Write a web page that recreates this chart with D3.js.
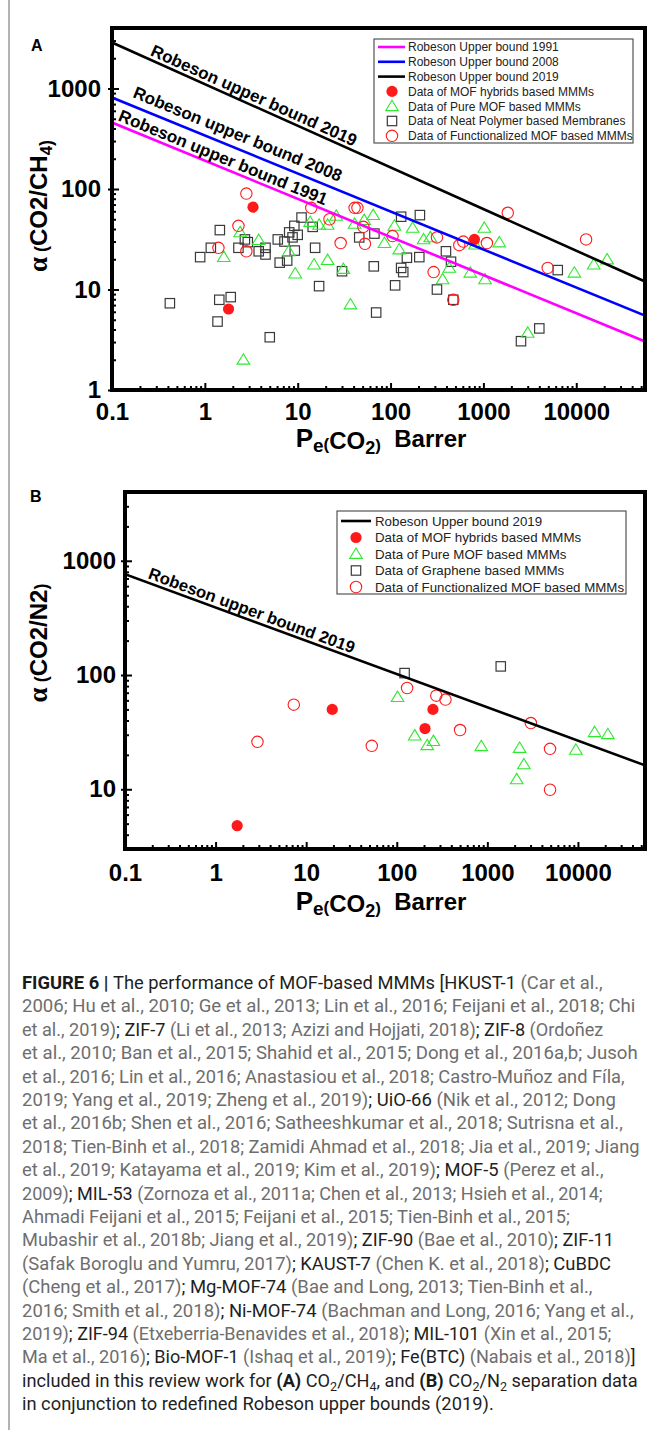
<!DOCTYPE html>
<html>
<head>
<meta charset="utf-8">
<script src="https://cdn.jsdelivr.net/npm/d3@7"></script>
<style>
  body { margin: 0; background: #fff; }
  svg { display: block; }
</style>
</head>
<body>
<div id="figure"></div>
<script>
// ---- values ----
const xTickValues = [0.1, 1, 10, 100, 1000, 10000];
const yTickValuesA = [1, 10, 100, 1000];
const yTickValuesB = [10, 100, 1000];

// (A) CO2/CH4  -- [permeability (Barrer), selectivity]
const bound1991A = [[0.1, 459], [55000, 3.04]];
const bound2008A = [[0.1, 813], [55000, 5.5]];
const bound2019A = [[0.1, 2870], [55000, 12]];

const hybridsA = [[3.3, 66], [1.8, 6.4], [800, 31.5]];
const pureA = [
  [2.4, 37], [3.8, 31], [1.6, 21], [9.4, 14.4], [15, 17.7], [21, 19.6], [13.6, 47], [17, 44],
  [21, 44], [26, 54], [2.6, 2.0], [8.0, 24], [41, 45], [52, 49], [65, 55], [110, 43], [173, 41],
  [86, 29], [124, 25], [227, 31.5], [268, 33], [31, 16], [429, 16.4], [364, 12.6], [722, 14.7],
  [1023, 41], [812, 28], [1040, 12.6], [1484, 29.4], [37, 7.1], [3000, 3.7], [9540, 14.7],
  [15430, 17.7], [21500, 19.9]
];
const polymerA = [
  [0.42, 7.3], [0.89, 21], [1.16, 26], [1.45, 39], [1.43, 7.9], [1.9, 8.4], [1.37, 4.8], [5.0, 3.35],
  [2.3, 26], [2.7, 31.5], [2.9, 29.6], [3.8, 24], [4.5, 26], [4.5, 22.3], [6.1, 31.5], [7.2, 30],
  [8.1, 37], [9.2, 43], [11, 52], [8.8, 33], [10, 35], [9.3, 24.4], [7.7, 19.4], [6.4, 18.5],
  [14.5, 42], [15.4, 26], [17, 10.8], [130, 53], [207, 55], [46, 33], [67, 36], [30, 15.2],
  [66, 17], [150, 20.7], [204, 21], [130, 16.4], [137, 14.9], [112, 11], [395, 24], [448, 18.9],
  [316, 10], [70, 5.9], [474, 7.9], [6320, 15.6], [4000, 4.1], [2540, 3.06]
];
const functionalA = [
  [2.8, 90], [2.3, 43], [1.4, 26], [2.8, 24], [14, 65], [22, 50], [29, 29], [41, 65], [44, 65],
  [51, 42], [53, 28.5], [105, 34], [316, 33], [550, 27.6], [607, 30], [1090, 29], [291, 14.9],
  [474, 7.9], [1830, 58], [12760, 31.5], [4930, 16.4]
];

// (B) CO2/N2
const bound2019B = [[0.1, 763], [55000, 16.2]];
const hybridsB = [[1.73, 4.8], [19.4, 50], [251, 50], [205, 34]];
const pureB = [
  [102, 64], [158, 29.5], [217, 24.3], [254, 26.4], [857, 23.8], [2270, 23], [2110, 12.2],
  [2530, 16.5], [9490, 22.1], [15270, 31.6], [21400, 30.3]
];
const grapheneB = [[122, 104], [1406, 119]];
const functionalB = [
  [2.9, 26], [7.3, 55], [53, 24], [130, 77], [273, 66], [345, 61], [500, 33], [3020, 38],
  [4920, 22.6], [4920, 9.9]
];

const legendLabelsA = [
  'Robeson Upper bound 1991', 'Robeson Upper bound 2008', 'Robeson Upper bound 2019',
  'Data of MOF hybrids based MMMs', 'Data of Pure MOF based MMMs',
  'Data of Neat Polymer based Membranes', 'Data of Functionalized MOF based MMMs'
];
const legendLabelsB = [
  'Robeson Upper bound 2019', 'Data of MOF hybrids based MMMs', 'Data of Pure MOF based MMMs',
  'Data of Graphene based MMMs', 'Data of Functionalized MOF based MMMs'
];

// caption, line by line: [text, style]  b = bold, d = dark, g = grey, s = dark subscript
const captionLines = [
  [['FIGURE 6 | ', 'b'], ['The performance of MOF-based MMMs [HKUST-1 ', 'd'], ['(Car et al.,', 'g']],
  [['2006; Hu et al., 2010; Ge et al., 2013; Lin et al., 2016; Feijani et al., 2018; Chi', 'g']],
  [['et al., 2019)', 'g'], ['; ZIF-7 ', 'd'], ['(Li et al., 2013; Azizi and Hojjati, 2018)', 'g'], ['; ZIF-8 ', 'd'], ['(Ordoñez', 'g']],
  [['et al., 2010; Ban et al., 2015; Shahid et al., 2015; Dong et al., 2016a,b; Jusoh', 'g']],
  [['et al., 2016; Lin et al., 2016; Anastasiou et al., 2018; Castro-Muñoz and Fíla,', 'g']],
  [['2019; Yang et al., 2019; Zheng et al., 2019)', 'g'], ['; UiO-66 ', 'd'], ['(Nik et al., 2012; Dong', 'g']],
  [['et al., 2016b; Shen et al., 2016; Satheeshkumar et al., 2018; Sutrisna et al.,', 'g']],
  [['2018; Tien-Binh et al., 2018; Zamidi Ahmad et al., 2018; Jia et al., 2019; Jiang', 'g']],
  [['et al., 2019; Katayama et al., 2019; Kim et al., 2019)', 'g'], ['; MOF-5 ', 'd'], ['(Perez et al.,', 'g']],
  [['2009)', 'g'], ['; MIL-53 ', 'd'], ['(Zornoza et al., 2011a; Chen et al., 2013; Hsieh et al., 2014;', 'g']],
  [['Ahmadi Feijani et al., 2015; Feijani et al., 2015; Tien-Binh et al., 2015;', 'g']],
  [['Mubashir et al., 2018b; Jiang et al., 2019)', 'g'], ['; ZIF-90 ', 'd'], ['(Bae et al., 2010)', 'g'], ['; ZIF-11', 'd']],
  [['(Safak Boroglu and Yumru, 2017)', 'g'], ['; KAUST-7 ', 'd'], ['(Chen K. et al., 2018)', 'g'], ['; CuBDC', 'd']],
  [['(Cheng et al., 2017)', 'g'], ['; Mg-MOF-74 ', 'd'], ['(Bae and Long, 2013; Tien-Binh et al.,', 'g']],
  [['2016; Smith et al., 2018)', 'g'], ['; Ni-MOF-74 ', 'd'], ['(Bachman and Long, 2016; Yang et al.,', 'g']],
  [['2019)', 'g'], ['; ZIF-94 ', 'd'], ['(Etxeberria-Benavides et al., 2018)', 'g'], ['; MIL-101 ', 'd'], ['(Xin et al., 2015;', 'g']],
  [['Ma et al., 2016)', 'g'], ['; Bio-MOF-1 ', 'd'], ['(Ishaq et al., 2019)', 'g'], ['; Fe(BTC) ', 'd'], ['(Nabais et al., 2018)', 'g'], [']', 'd']],
  [['included in this review work for ', 'd'], ['(A)', 'b'], [' CO', 'd'], ['2', 's'], ['/CH', 'd'], ['4', 's'], [', and ', 'd'], ['(B)', 'b'], [' CO', 'd'], ['2', 's'], ['/N', 'd'], ['2', 's'], [' separation data', 'd']],
  [['in conjunction to redefined Robeson upper bounds (2019).', 'd']]
];
// right end of every caption line except the last (ragged right)
const captionLineEnds = [603, 636, 604, 638, 625, 616, 623, 640, 604, 603, 570, 614, 612, 593, 634, 612, 636, 638, null];

// ---- drawing ----
const FONT = '"Liberation Sans", Arial, Helvetica, sans-serif';
const CAPTION_FONT = 'Roboto, "Liberation Sans", sans-serif';
const RED = '#ff1a1a';
const GREEN = '#2ee82e';

const markers = {
  hybrid: g => g.append('circle').attr('r', 5.6).attr('fill', RED),
  pure: g => g.append('path').attr('d', 'M0,-6L6.3,4.4L-6.3,4.4Z')
    .attr('fill', 'none').attr('stroke', GREEN).attr('stroke-width', 1.1),
  square: g => g.append('rect').attr('x', -4.7).attr('y', -4.7).attr('width', 9.4).attr('height', 9.4)
    .attr('fill', 'none').attr('stroke', '#3a3a3a').attr('stroke-width', 1.2),
  functional: g => g.append('circle').attr('r', 5.7)
    .attr('fill', 'none').attr('stroke', RED).attr('stroke-width', 1.1)
};

class BoundPlot {
  constructor(svg, opts) {
    this.svg = svg;
    this.opts = opts;
    const { left, top, right, bottom, yDomain } = opts.frame;
    this.x = d3.scaleLog().domain([0.1, 55000]).range([left, right]);
    this.y = d3.scaleLog().domain(yDomain).range([bottom, top]);
    this.g = svg.append('g');
    this.render();
  }

  render() {
    this.drawAxes();
    this.drawPoints();
    this.drawBounds();
    this.drawFrame();
    this.drawLegend();
    this.drawTitles();
  }

  drawAxes() {
    const { x, y, g } = this;
    const { left, bottom } = this.opts.frame;
    const minorX = x.ticks().filter(d => !xTickValues.includes(d));
    const minorY = y.ticks().filter(d => !this.opts.yTicks.includes(d));
    const tidy = sel => {
      sel.select('.domain').remove();
      sel.selectAll('line').attr('stroke', '#000').attr('stroke-width', 2);
      sel.attr('font-family', FONT).attr('font-size', 24).attr('font-weight', 'bold');
      sel.selectAll('text').attr('fill', '#000');
    };

    g.append('g').attr('transform', `translate(0,${bottom})`)
      .call(d3.axisBottom(x).tickValues(xTickValues).tickSizeInner(-7).tickSizeOuter(0)
        .tickPadding(this.opts.xPad).tickFormat(String))
      .call(tidy);
    g.append('g').attr('transform', `translate(0,${bottom})`)
      .call(d3.axisBottom(x).tickValues(minorX).tickSizeInner(-4).tickSizeOuter(0).tickFormat(''))
      .call(tidy);

    g.append('g').attr('transform', `translate(${left},0)`)
      .call(d3.axisLeft(y).tickValues(this.opts.yTicks).tickSizeInner(-7).tickSizeOuter(0)
        .tickPadding(this.opts.yPad).tickFormat(String))
      .call(tidy);
    g.append('g').attr('transform', `translate(${left},0)`)
      .call(d3.axisLeft(y).tickValues(this.opts.yTicks).tickSize(4).tickFormat(''))
      .call(tidy);
    g.append('g').attr('transform', `translate(${left},0)`)
      .call(d3.axisLeft(y).tickValues(minorY).tickSizeInner(-4).tickSizeOuter(0).tickFormat(''))
      .call(tidy);
  }

  drawPoints() {
    const { x, y } = this;
    for (const { data, marker } of this.opts.series) {
      this.g.append('g').selectAll('g')
        .data(data)
        .join('g')
          .attr('transform', d => `translate(${x(d[0])},${y(d[1])})`)
          .each(function() { markers[marker](d3.select(this)); });
    }
  }

  drawBounds() {
    const { x, y, g } = this;
    const { left, top, right, bottom } = this.opts.frame;
    const clipId = `clip-${this.opts.id}`;
    g.append('clipPath').attr('id', clipId)
      .append('rect').attr('x', left).attr('y', top).attr('width', right - left).attr('height', bottom - top);

    const line = d3.line().x(d => x(d[0])).y(d => y(d[1]));
    for (const b of this.opts.bounds) {
      g.append('path')
        .attr('clip-path', `url(#${clipId})`)
        .attr('d', line(b.data))
        .attr('fill', 'none')
        .attr('stroke', b.color)
        .attr('stroke-width', 2.6);

      // label sits just above the line, along its slope
      const [[xa, ya], [xb, yb]] = b.data;
      const px0 = x(xa), py0 = y(ya), px1 = x(xb), py1 = y(yb);
      const angle = Math.atan2(py1 - py0, px1 - px0) * 180 / Math.PI;
      const t = (Math.log10(b.labelAt) - Math.log10(xa)) / (Math.log10(xb) - Math.log10(xa));
      const lx = px0 + t * (px1 - px0);
      const ly = py0 + t * (py1 - py0);
      g.append('text')
        .attr('transform', `translate(${lx},${ly}) rotate(${angle})`)
        .attr('y', -b.labelGap)
        .attr('font-family', FONT)
        .attr('font-weight', 'bold')
        .attr('font-size', this.opts.boundFont)
        .attr('fill', '#000')
        .text(b.label);
    }
  }

  drawFrame() {
    const { left, top, right, bottom } = this.opts.frame;
    this.g.append('rect')
      .attr('x', left).attr('y', top)
      .attr('width', right - left).attr('height', bottom - top)
      .attr('fill', 'none').attr('stroke', '#000').attr('stroke-width', 4);
  }

  drawLegend() {
    const { box, rowTop, rowStep, sample, markerX, textX, fontSize, items } = this.opts.legend;
    const lg = this.g.append('g');
    lg.append('rect')
      .attr('x', box[0]).attr('y', box[1]).attr('width', box[2]).attr('height', box[3])
      .attr('fill', '#fff').attr('stroke', '#444').attr('stroke-width', 1.1);

    items.forEach((item, i) => {
      const cy = rowTop + i * rowStep;
      if (item.color) {
        lg.append('line')
          .attr('x1', sample[0]).attr('x2', sample[1]).attr('y1', cy).attr('y2', cy)
          .attr('stroke', item.color).attr('stroke-width', 2.6);
      } else {
        markers[item.marker](lg.append('g').attr('transform', `translate(${markerX},${cy})`));
      }
      lg.append('text')
        .attr('x', textX).attr('y', cy).attr('dy', '0.36em')
        .attr('font-family', FONT).attr('font-size', fontSize).attr('fill', '#222')
        .text(item.label);
    });
  }

  drawTitles() {
    const { letter, yTitle, xTitle } = this.opts;
    this.svg.append('text')
      .attr('x', letter[0]).attr('y', letter[1])
      .attr('font-family', FONT).attr('font-weight', 'bold').attr('font-size', 16)
      .text(letter[2]);

    // y title, e.g. "α (CO2/CH4)"
    const yt = this.svg.append('text')
      .attr('transform', `translate(${yTitle.x},${yTitle.y}) rotate(-90)`)
      .attr('text-anchor', 'middle')
      .attr('font-family', FONT).attr('font-weight', 'bold').attr('fill', '#000');
    yt.append('tspan').attr('font-family', '"Liberation Serif", "DejaVu Serif", serif')
      .attr('font-size', 27).text('α');
    yt.append('tspan').attr('font-size', 18).text('\u00a0(');
    yTitle.parts.forEach(([s, sub]) => {
      yt.append('tspan').attr('font-size', sub ? 17 : 24).attr('dy', sub ? 5 : 0).text(s);
      if (sub) yt.append('tspan').attr('dy', -5).text('');
    });
    yt.append('tspan').attr('font-size', 18).text(')');

    // x title "Pe(CO2)  Barrer"
    const xt = this.svg.append('text')
      .attr('x', xTitle.x).attr('y', xTitle.y)
      .attr('text-anchor', 'middle')
      .attr('font-family', FONT).attr('font-weight', 'bold').attr('fill', '#000');
    const pieces = [['P', 26, 0], ['e', 19, 5], ['(', 17, -2], ['CO', 24, -1], ['2', 18, 5], [')', 17, -3], ['\u00a0\u00a0Barrer', 24, -4]];
    for (const [s, size, dy] of pieces) {
      xt.append('tspan').attr('font-size', size).attr('dy', dy).text(s);
    }
  }
}

const svg = d3.select('#figure').append('svg')
  .attr('width', 656)
  .attr('height', 1430)
  .attr('viewBox', [0, 0, 656, 1430]);

// thin grey rule down the left edge of the figure page
svg.append('line')
  .attr('x1', 9).attr('x2', 9).attr('y1', 0).attr('y2', 1430)
  .attr('stroke', '#9a9a9a').attr('stroke-width', 1.5);

new BoundPlot(svg, {
  id: 'a',
  frame: { left: 112, top: 28, right: 645, bottom: 390, yDomain: [1, 4000] },
  yTicks: yTickValuesA,
  xPad: 13,
  yPad: 11,
  boundFont: 17,
  series: [
    { data: polymerA, marker: 'square' },
    { data: pureA, marker: 'pure' },
    { data: functionalA, marker: 'functional' },
    { data: hybridsA, marker: 'hybrid' }
  ],
  bounds: [
    { data: bound1991A, color: '#ff00ff', label: 'Robeson upper bound 1991', labelAt: 0.11, labelGap: 4 },
    { data: bound2008A, color: '#0000ff', label: 'Robeson upper bound 2008', labelAt: 0.152, labelGap: 8 },
    { data: bound2019A, color: '#000000', label: 'Robeson upper bound 2019', labelAt: 0.243, labelGap: 4 }
  ],
  legend: {
    box: [374, 39, 259, 104], rowTop: 47, rowStep: 14.8, sample: [378, 405], markerX: 392, textX: 408, fontSize: 12,
    items: [
      { label: legendLabelsA[0], color: '#ff00ff' },
      { label: legendLabelsA[1], color: '#0000ff' },
      { label: legendLabelsA[2], color: '#000000' },
      { label: legendLabelsA[3], marker: 'hybrid' },
      { label: legendLabelsA[4], marker: 'pure' },
      { label: legendLabelsA[5], marker: 'square' },
      { label: legendLabelsA[6], marker: 'functional' }
    ]
  },
  letter: [31, 51, 'A'],
  yTitle: { x: 47, y: 206, parts: [['CO2/CH', false], ['4', true]] },
  xTitle: { x: 381, y: 447 }
});

new BoundPlot(svg, {
  id: 'b',
  frame: { left: 125, top: 492, right: 645, bottom: 849, yDomain: [3, 4000] },
  yTicks: yTickValuesB,
  xPad: 15,
  yPad: 9,
  boundFont: 16.6,
  series: [
    { data: grapheneB, marker: 'square' },
    { data: pureB, marker: 'pure' },
    { data: functionalB, marker: 'functional' },
    { data: hybridsB, marker: 'hybrid' }
  ],
  bounds: [
    { data: bound2019B, color: '#000000', label: 'Robeson upper bound 2019', labelAt: 0.17, labelGap: 4 }
  ],
  legend: {
    box: [337, 511, 289, 83], rowTop: 521, rowStep: 16.5, sample: [341, 371], markerX: 356, textX: 375, fontSize: 13.3,
    items: [
      { label: legendLabelsB[0], color: '#000000' },
      { label: legendLabelsB[1], marker: 'hybrid' },
      { label: legendLabelsB[2], marker: 'pure' },
      { label: legendLabelsB[3], marker: 'square' },
      { label: legendLabelsB[4], marker: 'functional' }
    ]
  },
  letter: [30, 502, 'B'],
  yTitle: { x: 47, y: 643, parts: [['CO2/N2', false]] },
  xTitle: { x: 381, y: 910 }
});

// ---- caption ----
// each line is set in a regular font, then squeezed horizontally to the width it has in the figure
const CAPTION_LEFT = 22;
const captionColors = { b: '#1a1a1a', d: '#1f1f1f', g: '#6e6e6e', s: '#1f1f1f' };
const captionScales = [];
const captionNodes = captionLines.map((line, i) => {
  const holder = svg.append('g');
  const t = holder.append('text')
    .attr('font-family', CAPTION_FONT)
    .attr('font-size', 17.5);
  let shifted = false;
  for (const [s, style] of line) {
    const sp = t.append('tspan').attr('fill', captionColors[style]).text(s);
    if (style === 'b') sp.attr('font-weight', 'bold');
    if (style === 's') {
      sp.attr('font-size', 12).attr('dy', shifted ? 0 : 4);
      shifted = true;
    } else if (shifted) {
      sp.attr('dy', -4);
      shifted = false;
    }
  }
  const natural = t.node().getComputedTextLength();
  if (captionLineEnds[i]) captionScales.push((captionLineEnds[i] - CAPTION_LEFT) / natural);
  return { holder, natural, i };
});
const typicalScale = d3.median(captionScales);
for (const { holder, natural, i } of captionNodes) {
  const sx = captionLineEnds[i] ? (captionLineEnds[i] - CAPTION_LEFT) / natural : typicalScale;
  holder.attr('transform', `translate(${CAPTION_LEFT},${989 + i * 23.4}) scale(${sx},1)`);
}
</script>
</body>
</html>
